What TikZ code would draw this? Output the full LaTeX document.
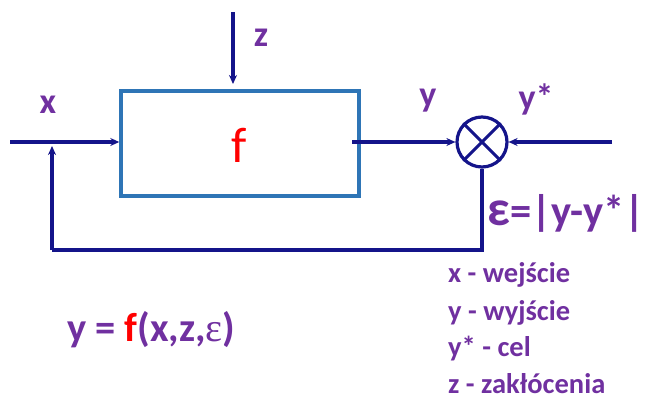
\documentclass[tikz,border=0pt]{standalone}
\usepackage{fontspec}
\setmainfont{Carlito}
\newfontfamily\serifeps{Liberation Serif}
\usetikzlibrary{arrows.meta}
\definecolor{navy}{HTML}{14148A}
\definecolor{boxblue}{HTML}{2E75B6}
\definecolor{purp}{HTML}{7030A0}
\definecolor{red}{HTML}{FF0000}
\tikzset{
  conn/.style={draw=navy, line width=3.2pt, -{Stealth[length=9pt,width=8pt]}},
  plain/.style={draw=navy, line width=3.2pt},
  lab/.style={text=purp, font=\fontsize{36}{38}\selectfont\bfseries, inner sep=0pt},
  leg/.style={text=purp, font=\fontsize{28.5}{30}\selectfont\bfseries, inner sep=0pt, anchor=west},
}
\begin{document}
\begin{tikzpicture}[x=1pt,y=-1pt]
\useasboundingbox (0,0) rectangle (647,402);
% block
\node[draw=boxblue, line width=3.4pt, minimum width=238pt, minimum height=105pt, inner sep=0pt] (f) at (240,143.5) {};
\node[text=red, font=\fontsize{50}{52}\selectfont, inner sep=0pt] (flab) at (239,145) {f};
% sum circle
\node[draw=navy, line width=3.2pt, circle, minimum size=50pt, inner sep=0pt] (sum) at (482,142) {};
\draw[navy, line width=3pt] (sum.north west) -- (sum.south east) (sum.north east) -- (sum.south west);
% free ends
\coordinate (xin) at (10,142);
\coordinate (zin) at (233,12);
\coordinate (zend) at (233,84);
\coordinate (ystar) at (612,142);
\coordinate (outstart) at (352,142);
\coordinate (fb1) at (482,250);
\coordinate (fb2) at (52,250);
\coordinate (fbend) at (52,146);
% connectors
\draw[conn] (xin) -- (f.west |- xin);
\draw[conn] (zin) -- (zend);
\draw[conn] (outstart) -- (sum.west);
\draw[conn] (ystar) -- (sum.east);
\draw[plain, line join=miter] (sum.south) -- (fb1) -- (fb2);
\draw[conn] (fb2) -- (fbend);
% labels
\node[lab] (lx) at (48,105) {x};
\node[lab] (lz) at (261,38) {z};
\node[lab] (ly) at (428,101) {y};
\node[lab] (lys) at (536,99) {y*};
\node[lab, anchor=west, font=\fontsize{42.5}{44}\selectfont\bfseries] (eps) at (487,213) {{\fontsize{50}{50}\selectfont ε}=|y-y*|};
\node[lab, anchor=west, font=\fontsize{40.5}{42}\selectfont\bfseries] (form) at (67,330) {y = \textcolor{red}{f}(x,z,{\serifeps\mdseries ε})};
% legend
\node[leg] (l1) at (448,275) {x - wejście};
\node[leg] (l2) at (448,313) {y - wyjście};
\node[leg] (l3) at (448,349) {y* - cel};
\node[leg] (l4) at (448,384) {z - zakłócenia};
\end{tikzpicture}
\end{document}
